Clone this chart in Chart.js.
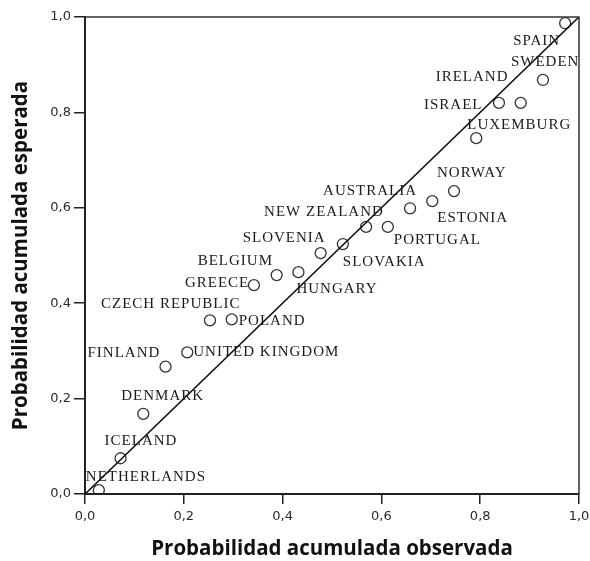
<!DOCTYPE html>
<html>
<head>
<meta charset="utf-8">
<script src="https://cdn.jsdelivr.net/npm/chart.js@4.4.1/dist/chart.umd.min.js"></script>
<style>
  html, body { margin: 0; padding: 0; background: #ffffff; }
  #wrap { width: 590px; height: 561px; position: relative; }
</style>
</head>
<body>
<div id="wrap"><canvas id="pp" width="590" height="561"></canvas></div>
<script>
// Countries, ordered by observed cumulative probability
const countries = ["NETHERLANDS", "ICELAND", "DENMARK", "FINLAND", "UNITED KINGDOM",
  "CZECH REPUBLIC", "POLAND", "GREECE", "BELGIUM", "HUNGARY", "SLOVENIA", "SLOVAKIA",
  "NEW ZEALAND", "PORTUGAL", "AUSTRALIA", "ESTONIA", "NORWAY", "LUXEMBURG", "ISRAEL",
  "IRELAND", "SWEDEN", "SPAIN"];
const observed = [0.028, 0.072, 0.118, 0.163, 0.207, 0.253, 0.297, 0.342, 0.388, 0.432,
  0.477, 0.522, 0.569, 0.613, 0.658, 0.703, 0.747, 0.792, 0.838, 0.882, 0.927, 0.972];
const expected = [0.008, 0.075, 0.168, 0.267, 0.297, 0.364, 0.366, 0.438, 0.459, 0.465,
  0.505, 0.524, 0.560, 0.560, 0.599, 0.614, 0.635, 0.746, 0.820, 0.820, 0.868, 0.987];
const tickValues = [0, 0.2, 0.4, 0.6, 0.8, 1.0];
const xTitle = "Probabilidad acumulada observada";
const yTitle = "Probabilidad acumulada esperada";

// Where each country name sits relative to its marker (pixels)
const labelOffsets = [[-13, -13], [-16, -17], [-22, -18], [-78, -14], [6, 0],
  [-109, -16], [7, 2], [-69, -2], [-79, -14], [-2, 17], [-78, -15], [0, 18],
  [-102, -15], [6, 13], [-87, -17], [5, 17], [-17, -18], [-9, -13], [-75, 2],
  [-85, -26], [-32, -18], [-52, 18]];

const fmt = v => v.toFixed(1).replace('.', ',');

const points = observed.map((x, i) => ({ x: x, y: expected[i] }));

const labelPlugin = {
  id: 'countryLabels',
  afterDatasetsDraw(chart) {
    const ctx = chart.ctx;
    const meta = chart.getDatasetMeta(0);
    ctx.save();
    ctx.font = '15px "Liberation Serif"';
    ctx.letterSpacing = '1px';
    ctx.fillStyle = '#1a1a1a';
    ctx.textAlign = 'left';
    ctx.textBaseline = 'middle';
    meta.data.forEach((el, i) => {
      const off = labelOffsets[i];
      ctx.fillText(countries[i], el.x + off[0], el.y + off[1]);
    });
    ctx.restore();
  }
};

const framePlugin = {
  id: 'frameAndTitles',
  afterDraw(chart) {
    const ctx = chart.ctx;
    const a = chart.chartArea;
    ctx.save();
    ctx.strokeStyle = '#333';
    ctx.lineWidth = 1.5;
    ctx.beginPath();
    ctx.moveTo(a.left, a.top);
    ctx.lineTo(a.right, a.top);
    ctx.lineTo(a.right, a.bottom);
    ctx.stroke();
    ctx.fillStyle = '#111';
    ctx.font = 'bold 20.5px "Open Sans"';
    ctx.textAlign = 'center';
    ctx.textBaseline = 'alphabetic';
    ctx.fillText(xTitle, (a.left + a.right) / 2, 555);
    ctx.translate(27, (a.top + a.bottom) / 2);
    ctx.rotate(-Math.PI / 2);
    ctx.fillText(yTitle, 0, 0);
    ctx.restore();
  }
};

new Chart(document.getElementById('pp'), {
  data: {
    datasets: [
      {
        type: 'scatter',
        data: points,
        pointStyle: 'circle',
        pointRadius: 5.5,
        pointBorderWidth: 1.3,
        pointBorderColor: '#333',
        pointBackgroundColor: 'rgba(255,255,255,0)',
        order: 2
      },
      {
        type: 'line',
        data: [{ x: 0, y: 0 }, { x: 1, y: 1 }],
        borderColor: '#111',
        borderWidth: 1.6,
        pointRadius: 0,
        fill: false,
        order: 1
      }
    ]
  },
  options: {
    responsive: false,
    animation: false,
    layout: { padding: { left: 0, top: 17, right: 0, bottom: 0 } },
    plugins: { legend: { display: false }, tooltip: { enabled: false } },
    scales: {
      x: {
        type: 'linear',
        min: 0, max: 1,
        afterFit(s) { s.height = 67; s.paddingLeft = 0; s.paddingRight = 11; },
        afterBuildTicks(s) { s.ticks = tickValues.map(v => ({ value: v })); },
        ticks: {
          callback: v => fmt(v),
          font: { family: 'DejaVu Sans', size: 13 },
          color: '#2a2a2a',
          padding: 5,
          maxRotation: 0
        },
        grid: { drawOnChartArea: false, drawTicks: true, tickLength: 10, color: '#222', lineWidth: 1.5 },
        border: { display: true, color: '#222', width: 2 }
      },
      y: {
        type: 'linear',
        min: 0, max: 1,
        afterFit(s) { s.width = 85; },
        afterBuildTicks(s) { s.ticks = tickValues.map(v => ({ value: v })); },
        ticks: {
          callback: v => fmt(v),
          font: { family: 'DejaVu Sans', size: 13 },
          color: '#2a2a2a',
          padding: 3
        },
        grid: { drawOnChartArea: false, drawTicks: true, tickLength: 11, color: '#222', lineWidth: 1.5 },
        border: { display: true, color: '#222', width: 2 }
      }
    }
  },
  plugins: [labelPlugin, framePlugin]
});
</script>
</body>
</html>
